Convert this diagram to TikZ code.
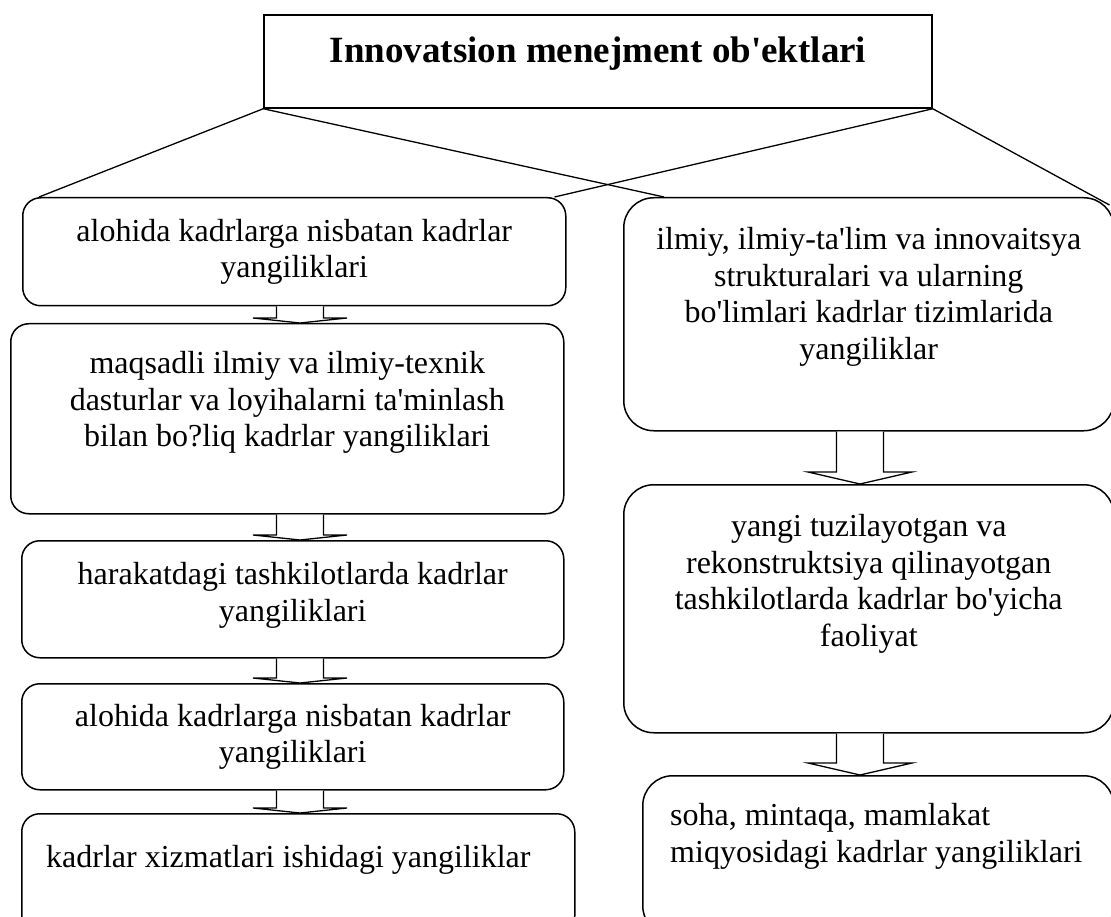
\documentclass[tikz,border=0pt]{standalone}
\usepackage{fontspec}
\setmainfont{Liberation Serif}[Ligatures=TeXOff]
\usetikzlibrary{positioning}

\begin{document}
\begin{tikzpicture}[
    x=1pt, y=-1pt,
    headbox/.style={
        rectangle, draw, line width=1.5pt,
        minimum width=668pt, minimum height=93pt,
        font=\bfseries\fontsize{37}{42}\selectfont
    },
    card/.style={
        rectangle, draw, line width=1.5pt,
        rounded corners=18pt, anchor=north west, inner sep=0pt
    },
    bigcard/.style={card, rounded corners=30pt},
    caption/.style={
        align=center, inner sep=0pt,
        font=\fontsize{32}{36.7}\selectfont
    },
    link/.style={line width=1.3pt},
    fat/.style={draw, fill=white, line width=1.3pt, line join=miter}
]
  \useasboundingbox (0,0) rectangle (1111,917);

  % Nodes
  \node[headbox, text height=26pt, text depth=23pt] (top) at (598,61.5) {Innovatsion menejment ob'ektlari};

  \node[card, minimum width=543pt, minimum height=108pt] (l1) at (22,197) {};
  \node[card, minimum width=553pt, minimum height=190pt] (l2) at (10,323) {};
  \node[card, minimum width=542pt, minimum height=117pt] (l3) at (21,540) {};
  \node[card, minimum width=542pt, minimum height=106pt] (l4) at (21,683) {};
  \node[card, minimum width=553pt, minimum height=120pt] (l5) at (21,813) {};

  \node[bigcard, minimum width=490pt, minimum height=233pt] (r1) at (623,197) {};
  \node[bigcard, minimum width=490pt, minimum height=248pt] (r2) at (623,484) {};
  \node[bigcard, minimum width=471pt, minimum height=160pt] (r3) at (642,775) {};

  % Texts
  \node[caption] (l1t) at (l1) {alohida kadrlarga nisbatan kadrlar\\yangiliklari};
  \node[caption, below=28pt of l2.north] (l2t) {maqsadli ilmiy va ilmiy-texnik\\dasturlar va loyihalarni ta'minlash\\bilan bo?liq kadrlar yangiliklari};
  \node[caption] (l3t) at ([yshift=4pt]l3.center) {harakatdagi tashkilotlarda kadrlar\\yangiliklari};
  \node[caption] (l4t) at (l4) {alohida kadrlarga nisbatan kadrlar\\yangiliklari};
  \node[caption, anchor=base west] (l5t) at ([xshift=25pt, yshift=-54pt]l5.north west) {kadrlar xizmatlari ishidagi yangiliklar};

  \node[caption, below=30pt of r1.north] (r1t) {ilmiy, ilmiy-ta'lim va innovaitsya\\strukturalari va ularning\\bo'limlari kadrlar tizimlarida\\yangiliklar};
  \node[caption, below=30pt of r2.north] (r2t) {yangi tuzilayotgan va\\rekonstruktsiya qilinayotgan\\tashkilotlarda kadrlar bo'yicha\\faoliyat};
  \node[caption, align=left, anchor=north west] (r3t) at ([xshift=28pt, yshift=-28pt]r3.north west) {soha, mintaqa, mamlakat\\miqyosidagi kadrlar yangiliklari};

  % Lines from the title box
  \draw[link] (top.south west) -- ([xshift=17pt]l1.north west);
  \draw[link] (top.south west) -- ([xshift=41pt]r1.north west);
  \draw[link] (top.south east) -- ([xshift=-12pt]l1.north east);
  \draw[link] (top.south east) -- ([xshift=-5pt, yshift=-8pt]r1.north east);

  % Block arrows
  \coordinate (axl) at (300,0);
  \coordinate (axr) at (860,0);
  \foreach \a/\b/\ax/\hw/\hl in {l1/l2/axl/47/5, l2/l3/axl/47/5, l3/l4/axl/47/5, l4/l5/axl/47/5, r1/r2/axr/52/12, r2/r3/axr/52/12}
    \draw[fat] ([xshift=-23.5pt]\ax |- \a.south) -- ([xshift=-23.5pt, yshift=\hl pt]\ax |- \b.north)
      -- ([xshift=-\hw pt, yshift=\hl pt]\ax |- \b.north) -- (\ax |- \b.north)
      -- ([xshift=\hw pt, yshift=\hl pt]\ax |- \b.north) -- ([xshift=23.5pt, yshift=\hl pt]\ax |- \b.north)
      -- ([xshift=23.5pt]\ax |- \a.south);

\end{tikzpicture}
\end{document}
